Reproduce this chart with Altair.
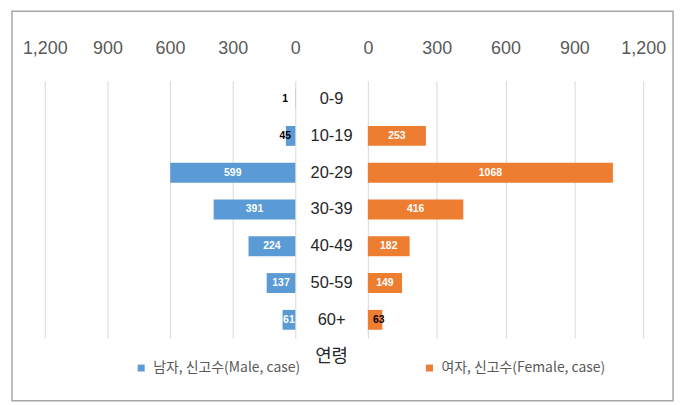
import altair as alt
import pandas as pd

ages = ["0-9", "10-19", "20-29", "30-39", "40-49", "50-59", "60+"]
male_cases = [1, 45, 599, 391, 224, 137, 61]
female_cases = [None, 253, 1068, 416, 182, 149, 63]
male_name = "남자, 신고수(Male, case)"
female_name = "여자, 신고수(Female, case)"
axis_ticks = [0, 300, 600, 900, 1200]
age_title = "연령"

rows = []
for a, m, f in zip(ages, male_cases, female_cases):
    rows.append({"age": a, "sex": male_name, "cases": m})
    if f is not None:
        rows.append({"age": a, "sex": female_name, "cases": f})
df = pd.DataFrame(rows)

BLUE = "#5B9BD5"
ORANGE = "#ED7D31"
NUMFONT = "Liberation Sans"
KFONT = "Noto Sans CJK KR"

yenc = alt.Y("age:N", sort=ages, axis=None,
             scale=alt.Scale(paddingInner=0.46, paddingOuter=0.23))

color = alt.Color(
    "sex:N",
    scale=alt.Scale(domain=[male_name, female_name], range=[BLUE, ORANGE]),
    legend=alt.Legend(
        orient="none", legendX=90, legendY=282, direction="horizontal",
        columns=2, columnPadding=122, symbolType="square", symbolSize=49,
        symbolStrokeWidth=0, labelFontSize=14, labelFont=KFONT,
        labelColor="#595959", labelLimit=400, title=None, padding=0,
        labelOffset=5,
    ),
)


def x_axis():
    return alt.Axis(
        orient="top", values=axis_ticks, format=",d", grid=True,
        gridColor="#D9D9D9", gridWidth=1, domain=False, ticks=False,
        tickSize=0, labelFontSize=18, labelColor="#595959", labelFont=NUMFONT,
        labelPadding=23, labelFlush=False, labelOverlap=False, title=None,
    )


def side(name, width, reverse, thresh, extra=None):
    base = alt.Chart(df).transform_filter(alt.datum.sex == name).transform_calculate(
        mid=f"datum.cases < {thresh} ? 48 : datum.cases / 2"
    )
    xs = alt.Scale(domain=[0, 1200], reverse=reverse, nice=False, zero=True)
    bars = base.mark_bar().encode(
        x=alt.X("cases:Q", scale=xs, axis=x_axis()), y=yenc, color=color
    )
    labels = base.mark_text(fontSize=10.5, fontWeight="bold", font=NUMFONT).encode(
        x=alt.X("mid:Q", scale=xs),
        y=yenc,
        text=alt.Text("cases:Q"),
        color=alt.condition(f"datum.cases < {thresh}", alt.value("#000000"), alt.value("#FFFFFF")),
    )
    layers = [bars, labels]
    if extra is not None:
        layers.append(extra)
    return alt.layer(*layers).properties(width=width, height=259)


frame = alt.Chart(pd.DataFrame({"f": [0]})).mark_rect(
    filled=False, stroke="#A6A6A6", strokeWidth=1.5
).encode(x=alt.value(-33), x2=alt.value(632), y=alt.value(-70), y2=alt.value(322))

left = side(male_name, 252, True, 50, extra=frame)
right = side(female_name, 277, False, 100)

middle = alt.Chart(pd.DataFrame({"age": ages})).mark_text(
    fontSize=16.5, color="#262626", font=NUMFONT
).encode(y=yenc, text="age:N").properties(
    width=73, height=259,
    title=alt.TitleParams(age_title, orient="bottom", fontSize=18, font=KFONT,
                          fontWeight="normal", color="#262626", offset=10),
)

chart = alt.hconcat(left, middle, right, spacing=0, bounds="flush").resolve_scale(
    x="independent", y="shared", color="shared"
).properties(
    padding={"left": 3, "top": 1, "right": 3, "bottom": 2}
).configure_view(strokeWidth=0)

chart.save("out.html", embed_options={"renderer": "svg", "actions": False})
